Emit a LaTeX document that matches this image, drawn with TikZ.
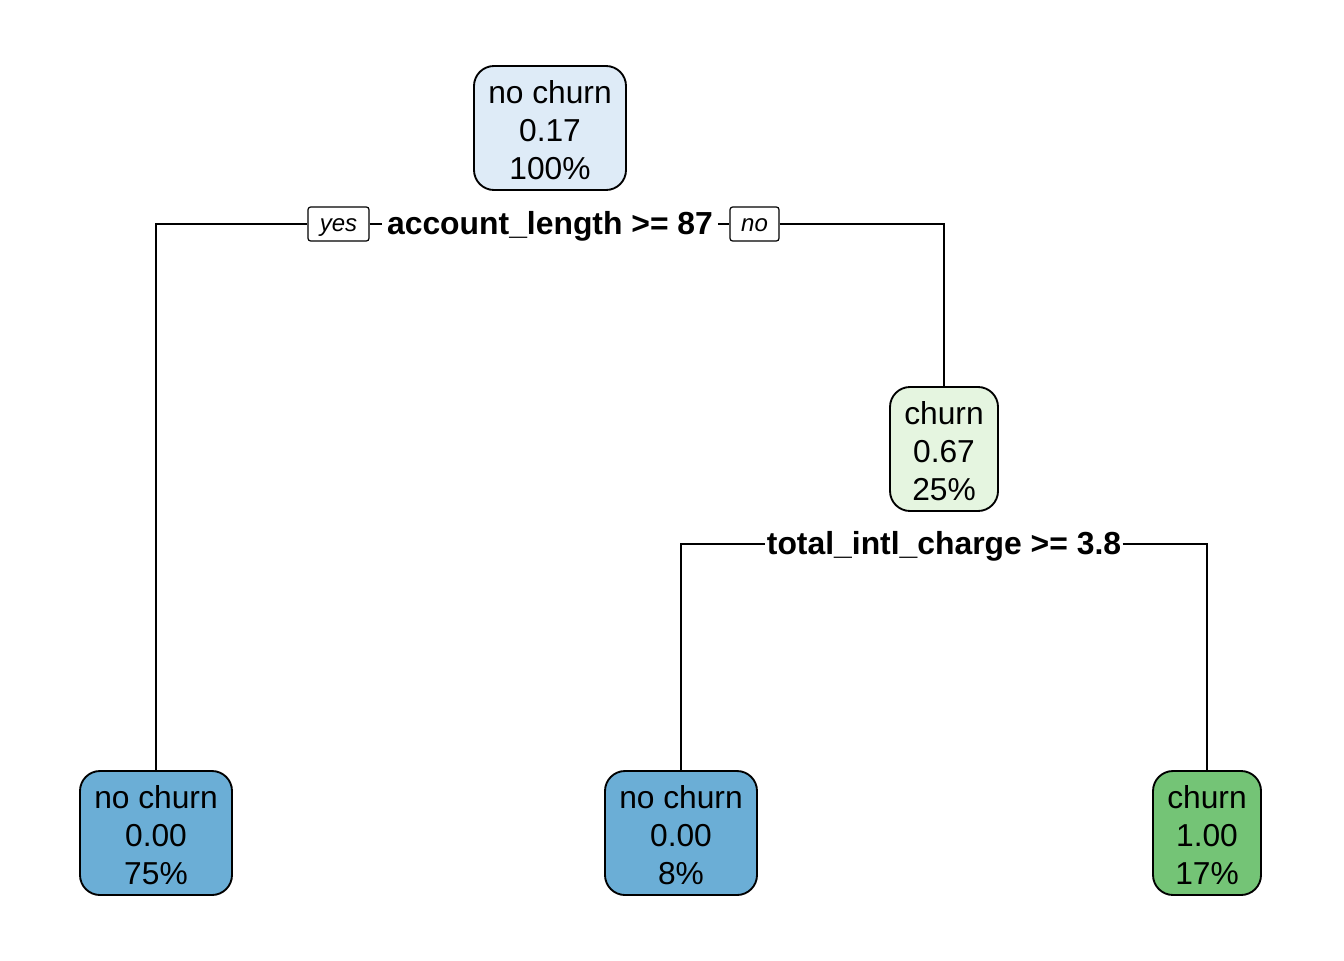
\documentclass[tikz,border=0pt]{standalone}
\usepackage{fontspec}
\setmainfont{Liberation Sans}
\definecolor{rootblue}{HTML}{DEEBF7}
\definecolor{lightgreen}{HTML}{E5F5E0}
\definecolor{leafblue}{HTML}{6BAED6}
\definecolor{leafgreen}{HTML}{74C476}
\newcommand{\topstrut}{\rule{0pt}{20.4pt}}
\begin{document}
\begin{tikzpicture}[x=0.75pt,y=-0.75pt,
  treenode/.style={draw=black,line width=1.4pt,rounded corners=15pt,inner sep=0pt,
    minimum height=93pt,align=center,
    font=\fontsize{23.8pt}{28.5pt}\selectfont},
  widenode/.style={treenode,minimum width=114pt},
  narrownode/.style={treenode,minimum width=81pt},
  splitlabel/.style={fill=white,inner xsep=3.75pt,inner ysep=0pt,text height=18.5pt,text depth=3.5pt,
    font=\bfseries\fontsize{23.9pt}{28pt}\selectfont},
  yesno/.style={draw=black,line width=0.9pt,rounded corners=2pt,fill=white,inner sep=0pt,
    text height=11.6pt,text depth=0pt,
    minimum height=25.5pt,font=\itshape\fontsize{18pt}{20pt}\selectfont},
  conn/.style={draw=black,line width=1.1pt}]
\useasboundingbox (0,0) rectangle (1344,960);
\fill[white] (0,0) rectangle (1344,960);

\node[widenode,fill=rootblue] (root) at (550,128) {\topstrut no churn\\0.17\\100\%};
\node[narrownode,fill=lightgreen] (n3) at (944,449) {\topstrut churn\\0.67\\25\%};
\node[widenode,fill=leafblue] (leaf1) at (156,833) {\topstrut no churn\\0.00\\75\%};
\node[widenode,fill=leafblue] (leaf2) at (681,833) {\topstrut no churn\\0.00\\8\%};
\node[narrownode,fill=leafgreen] (leaf3) at (1207,833) {\topstrut churn\\1.00\\17\%};

\node[splitlabel] (s1) at (550,224) {account\_length >= 87};
\node[yesno,minimum width=45.75pt] (yes) at (338.5,224) {yes};
\node[yesno,minimum width=36.75pt] (no) at (754.5,224) {no};
\node[splitlabel,inner xsep=1pt] (s2) at (944,544) {total\_intl\_charge >= 3.8};

\draw[conn] (leaf1.north) |- (yes.west);
\draw[conn] (yes.east) -- (s1.west);
\draw[conn] (s1.east) -- (no.west);
\draw[conn] (no.east) -| (n3.north);
\draw[conn] (leaf2.north) |- (s2.west);
\draw[conn] (s2.east) -| (leaf3.north);
\end{tikzpicture}
\end{document}
